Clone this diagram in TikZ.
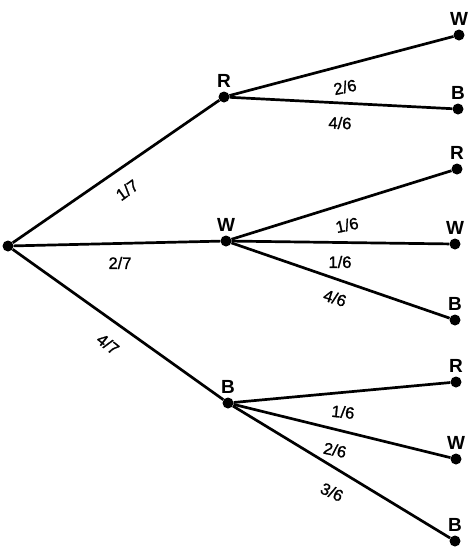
\documentclass[tikz,border=0pt]{standalone}
\usepackage{fontspec}
\setmainfont{Liberation Sans}
\newfontfamily\fracfont{Liberation Sans}[FakeBold=1.2]
\begin{document}
\begin{tikzpicture}[x=1pt,y=-1pt,
  dot/.style={circle,fill=black,inner sep=0pt,minimum size=11pt},
  lab/.style={font=\fontsize{19}{19}\selectfont\bfseries,inner sep=0pt},
  frac/.style={font=\fontsize{16.5}{16.5}\fracfont,inner sep=0pt},
  branch/.style={line width=2.7pt},
  every label/.style={lab},
  label distance=4pt]
\useasboundingbox (0,0) rectangle (474,550);
% nodes
\node[dot] (root) at (8,246) {};
\node[dot,label=above:R] (R) at (224,97) {};
\node[dot,label=above:W] (W) at (226,241) {};
\node[dot,label=above:B] (B) at (228,403) {};
\node[dot,label=above:W] (RW) at (459,35) {};
\node[dot,label=above:B] (RB) at (458,109) {};
\node[dot,label=above:R] (WR) at (457,169) {};
\node[dot,label=above:W] (WW) at (455,244) {};
\node[dot,label=above:B] (WB) at (455,320) {};
\node[dot,label=above:R] (BR) at (456,382) {};
\node[dot,label=above:W] (BW) at (456,459) {};
\node[dot,label=above:B] (BB) at (455,541) {};
% first level
\draw[branch] (root) -- (R) node[frac,rotate=36] at (127,190) {1/7};
\draw[branch] (root) -- (W) node[frac] at (120,263) {2/7};
\draw[branch] (root) -- (B) node[frac,rotate=-38] at (108,344) {4/7};
% second level from R
\draw[branch] (R) -- (RW) node[frac,rotate=12] at (345,87) {2/6};
\draw[branch] (R) -- (RB) node[frac,rotate=-2] at (340,123) {4/6};
% from W
\draw[branch] (W) -- (WR) node[frac,rotate=12] at (347,225) {1/6};
\draw[branch] (W) -- (WW) node[frac] at (340,262) {1/6};
\draw[branch] (W) -- (WB) node[frac,rotate=-18] at (335,298) {4/6};
% from B
\draw[branch] (B) -- (BR) node[frac,rotate=-6] at (343,412) {1/6};
\draw[branch] (B) -- (BW) node[frac,rotate=-12] at (335,450) {2/6};
\draw[branch] (B) -- (BB) node[frac,rotate=-25] at (332,492) {3/6};
\end{tikzpicture}
\end{document}
